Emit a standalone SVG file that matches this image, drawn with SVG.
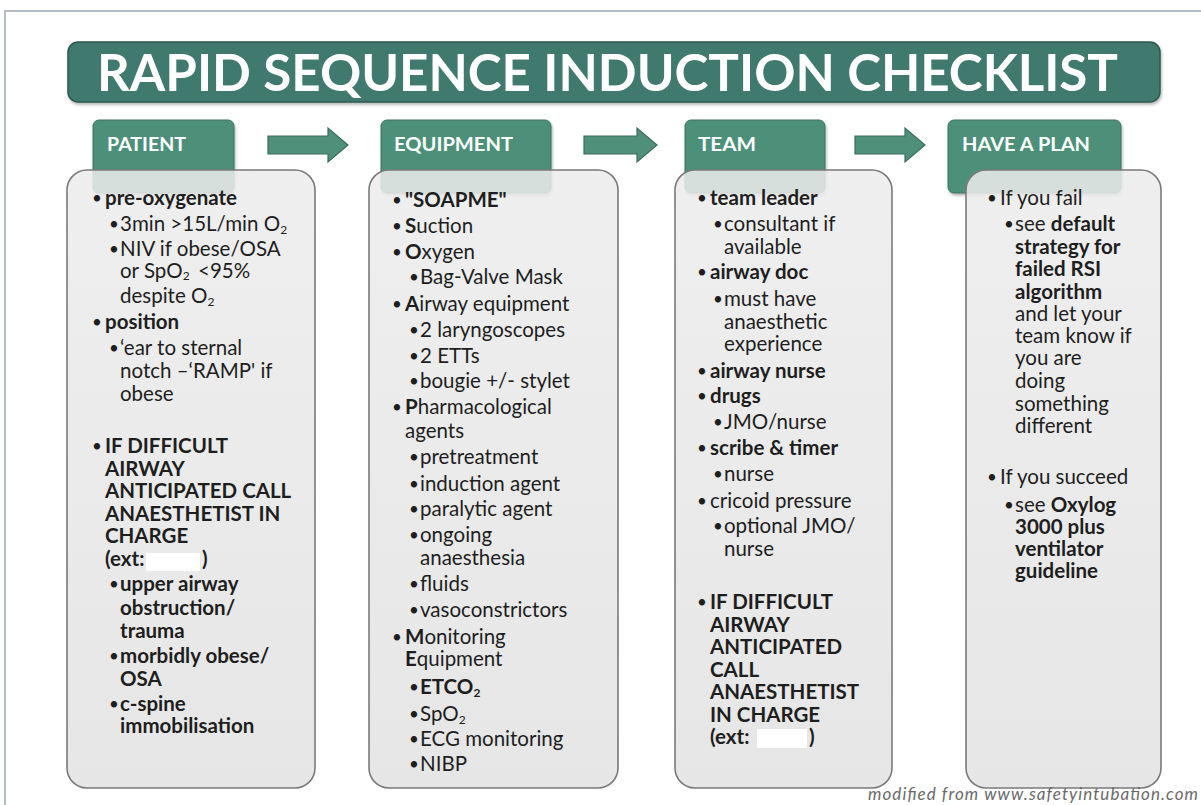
<svg xmlns="http://www.w3.org/2000/svg" width="1201" height="805" viewBox="0 0 1201 805">
<defs>
<linearGradient id="boxg" x1="0" y1="0" x2="0" y2="1">
<stop offset="0" stop-color="#ececec"/>
<stop offset="1" stop-color="#e2e2e2"/>
</linearGradient>
<filter id="sh" x="-10%" y="-10%" width="130%" height="140%">
<feDropShadow dx="1" dy="2" stdDeviation="1.5" flood-color="#000" flood-opacity="0.3"/>
</filter>
</defs>
<style>
text{font-family:Lato,"Liberation Sans",sans-serif;fill:#1e1e1e;font-size:20.5px}
.b{font-weight:bold}
.tab{fill:#4e907a;stroke:#3c7262;stroke-width:1}
.tabt{fill:#fff;font-weight:bold;font-size:19.5px}
.box{fill:url(#boxg);fill-opacity:0.86;stroke:#7a7a7a;stroke-width:1.6}
.arr{fill:#4e907a;stroke:#3a6d5f;stroke-width:1.2}
.ext{fill:#fff}
.sub{font-size:12px}
.bu{font-size:17px}
</style>
<rect width="1201" height="805" fill="#fff"/>
<path d="M5,805 V11 H1201" fill="none" stroke="#b4bcc4" stroke-width="2"/>

<g id="title">
<rect x="68" y="42" width="1092" height="60" rx="10" fill="#3f7a6e" stroke="#2c5a50" stroke-width="1.5" filter="url(#sh)"/>
<text x="97" y="91" style="font-size:52px;font-weight:bold;fill:#fff" textLength="1021" lengthAdjust="spacingAndGlyphs">RAPID SEQUENCE INDUCTION CHECKLIST</text>
</g>

<g id="connectors">
<path class="arr" d="M268,136 H328 V128 L348,145 L328,162 V154 H268 Z"/>
<path class="arr" d="M584,136 H637 V128 L657,145 L637,162 V154 H584 Z"/>
<path class="arr" d="M855,136 H905 V128 L925,145 L905,162 V154 H855 Z"/>
</g>

<g id="patient">
<rect class="tab" x="93" y="120" width="141" height="73" rx="6" filter="url(#sh)"/>
<text class="tabt" x="107" y="151" textLength="79" lengthAdjust="spacingAndGlyphs">PATIENT</text>
<rect class="box" x="67" y="170" width="248" height="618" rx="20"/>
<text class="bu" x="92" y="204">•</text><text class="b" x="105" y="205">pre-oxygenate</text>
<text class="bu" x="109" y="230">•</text><text x="120" y="231">3min &gt;15L/min O<tspan class="sub" dy="3">2</tspan></text>
<text class="bu" x="109" y="255">•</text><text x="120" y="256">NIV if obese/OSA</text>
<text x="120" y="278">or SpO<tspan class="sub" dy="2">2</tspan></text><text x="198" y="278">&lt;95%</text>
<text x="120" y="303">despite O<tspan class="sub" dy="3">2</tspan></text>
<text class="bu" x="92" y="328">•</text><text class="b" x="105" y="329">position</text>
<text class="bu" x="109" y="354">•</text><text x="120" y="355">‘ear to sternal</text>
<text x="120" y="378">notch –‘RAMP' if</text>
<text x="120" y="401">obese</text>
<text class="bu" x="92" y="452">•</text><text class="b" x="105" y="453">IF DIFFICULT</text>
<text class="b" x="105" y="476">AIRWAY</text>
<text class="b" x="105" y="498">ANTICIPATED CALL</text>
<text class="b" x="105" y="521">ANAESTHETIST IN</text>
<text class="b" x="105" y="543">CHARGE</text>
<text class="b" x="105" y="566">(ext:</text>
<rect class="ext" x="146" y="553" width="54" height="18"/>
<text class="b" x="202" y="566">)</text>
<text class="bu" x="109" y="590">•</text><text class="b" x="120" y="591">upper airway</text>
<text class="b" x="120" y="615">obstruction/</text>
<text class="b" x="120" y="638">trauma</text>
<text class="bu" x="109" y="662">•</text><text class="b" x="120" y="663">morbidly obese/</text>
<text class="b" x="120" y="686">OSA</text>
<text class="bu" x="109" y="710">•</text><text class="b" x="120" y="711">c-spine</text>
<text class="b" x="120" y="733">immobilisation</text>
</g>

<g id="equipment">
<rect class="tab" x="381" y="120" width="170" height="73" rx="6" filter="url(#sh)"/>
<text class="tabt" x="394" y="151" textLength="119" lengthAdjust="spacingAndGlyphs">EQUIPMENT</text>
<rect class="box" x="369" y="170" width="249" height="618" rx="20"/>
<text class="bu" x="392" y="206">•</text><text class="b" x="405" y="207">"SOAPME"</text>
<text class="bu" x="392" y="232">•</text><text x="405" y="233"><tspan class="b">S</tspan>uction</text>
<text class="bu" x="392" y="258">•</text><text x="405" y="259"><tspan class="b">O</tspan>xygen</text>
<text class="bu" x="409" y="283">•</text><text x="420" y="284">Bag-Valve Mask</text>
<text class="bu" x="392" y="310">•</text><text x="405" y="311"><tspan class="b">A</tspan>irway equipment</text>
<text class="bu" x="409" y="336">•</text><text x="420" y="337">2 laryngoscopes</text>
<text class="bu" x="409" y="362">•</text><text x="420" y="363">2 ETTs</text>
<text class="bu" x="409" y="387">•</text><text x="420" y="388">bougie +/- stylet</text>
<text class="bu" x="392" y="413">•</text><text x="405" y="414"><tspan class="b">P</tspan>harmacological</text>
<text x="405" y="438">agents</text>
<text class="bu" x="409" y="463">•</text><text x="420" y="464">pretreatment</text>
<text class="bu" x="409" y="490">•</text><text x="420" y="491">induction agent</text>
<text class="bu" x="409" y="515">•</text><text x="420" y="516">paralytic agent</text>
<text class="bu" x="409" y="541">•</text><text x="420" y="542">ongoing</text>
<text x="420" y="565">anaesthesia</text>
<text class="bu" x="409" y="590">•</text><text x="420" y="591">fluids</text>
<text class="bu" x="409" y="616">•</text><text x="420" y="617">vasoconstrictors</text>
<text class="bu" x="392" y="643">•</text><text x="405" y="644"><tspan class="b">M</tspan>onitoring</text>
<text x="405" y="666"><tspan class="b">E</tspan>quipment</text>
<text class="bu" x="409" y="693">•</text><text class="b" x="420" y="694">ETCO<tspan class="sub" dy="3">2</tspan></text>
<text class="bu" x="409" y="720">•</text><text x="420" y="721">SpO<tspan class="sub" dy="3">2</tspan></text>
<text class="bu" x="409" y="745">•</text><text x="420" y="746">ECG monitoring</text>
<text class="bu" x="409" y="770">•</text><text x="420" y="771">NIBP</text>
</g>

<g id="team">
<rect class="tab" x="685" y="120" width="140" height="73" rx="6" filter="url(#sh)"/>
<text class="tabt" x="698" y="151" textLength="58" lengthAdjust="spacingAndGlyphs">TEAM</text>
<rect class="box" x="675" y="170" width="217" height="618" rx="20"/>
<text class="bu" x="697" y="204">•</text><text class="b" x="710" y="205">team leader</text>
<text class="bu" x="713" y="230">•</text><text x="724" y="231">consultant if</text>
<text x="724" y="254">available</text>
<text class="bu" x="697" y="278">•</text><text class="b" x="710" y="279">airway doc</text>
<text class="bu" x="713" y="305">•</text><text x="724" y="306">must have</text>
<text x="724" y="329">anaesthetic</text>
<text x="724" y="351">experience</text>
<text class="bu" x="697" y="377">•</text><text class="b" x="710" y="378">airway nurse</text>
<text class="bu" x="697" y="402">•</text><text class="b" x="710" y="403">drugs</text>
<text class="bu" x="713" y="428">•</text><text x="724" y="429">JMO/nurse</text>
<text class="bu" x="697" y="454">•</text><text class="b" x="710" y="455">scribe &amp; timer</text>
<text class="bu" x="713" y="480">•</text><text x="724" y="481">nurse</text>
<text class="bu" x="697" y="507">•</text><text x="710" y="508">cricoid pressure</text>
<text class="bu" x="713" y="532">•</text><text x="724" y="533">optional JMO/</text>
<text x="724" y="556">nurse</text>
<text class="bu" x="697" y="608">•</text><text class="b" x="710" y="609">IF DIFFICULT</text>
<text class="b" x="710" y="632">AIRWAY</text>
<text class="b" x="710" y="654">ANTICIPATED</text>
<text class="b" x="710" y="677">CALL</text>
<text class="b" x="710" y="699">ANAESTHETIST</text>
<text class="b" x="710" y="722">IN CHARGE</text>
<text class="b" x="710" y="744">(ext:</text>
<rect class="ext" x="757" y="729" width="50" height="19"/>
<text class="b" x="809" y="744">)</text>
</g>

<g id="plan">
<rect class="tab" x="948" y="120" width="173" height="73" rx="6" filter="url(#sh)"/>
<text class="tabt" x="962" y="151" textLength="128" lengthAdjust="spacingAndGlyphs">HAVE A PLAN</text>
<rect class="box" x="966" y="170" width="195" height="618" rx="20"/>
<text class="bu" x="987" y="204">•</text><text x="1000" y="205">If you fail</text>
<text class="bu" x="1004" y="230">•</text><text x="1015" y="231">see <tspan class="b">default</tspan></text>
<text class="b" x="1015" y="254">strategy for</text>
<text class="b" x="1015" y="276">failed RSI</text>
<text class="b" x="1015" y="299">algorithm</text>
<text x="1015" y="321">and let your</text>
<text x="1015" y="343">team know if</text>
<text x="1015" y="365">you are</text>
<text x="1015" y="388">doing</text>
<text x="1015" y="411">something</text>
<text x="1015" y="433">different</text>
<text class="bu" x="987" y="483">•</text><text x="1000" y="484">If you succeed</text>
<text class="bu" x="1004" y="511">•</text><text x="1015" y="512">see <tspan class="b">Oxylog</tspan></text>
<text class="b" x="1015" y="534">3000 plus</text>
<text class="b" x="1015" y="556">ventilator</text>
<text class="b" x="1015" y="578">guideline</text>
</g>

<text x="868" y="800" style="font-size:17px;font-style:italic;fill:#6a6a6a" textLength="330" lengthAdjust="spacing">modified from www.safetyintubation.com</text>
</svg>
